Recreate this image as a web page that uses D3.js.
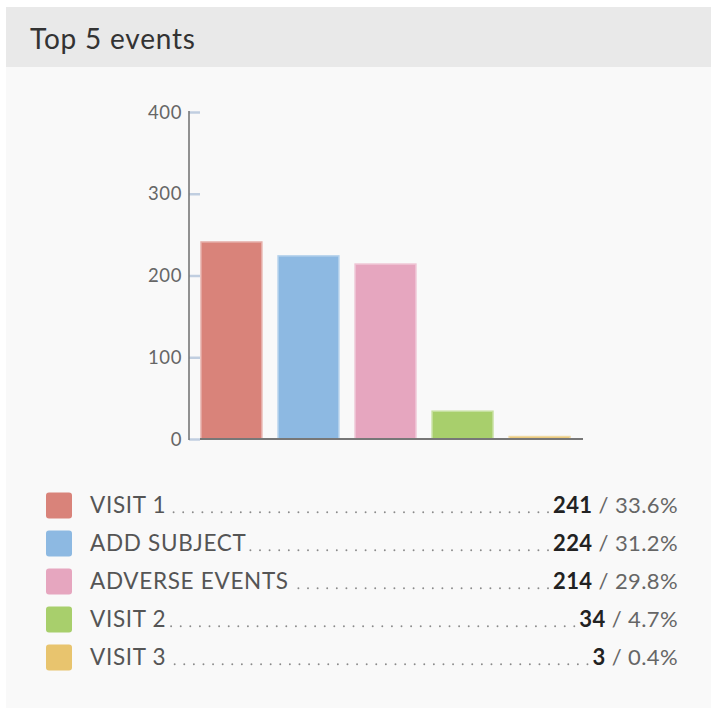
<!DOCTYPE html>
<html>
<head>
<meta charset="utf-8">
<script src="https://cdn.jsdelivr.net/npm/d3@7"></script>
<style>
  html, body { margin: 0; padding: 0; background: #ffffff; }
  svg { display: block; font-family: Lato, "Open Sans", sans-serif; }
</style>
</head>
<body>
<svg id="chart" width="711" height="711"></svg>
<script>
// Top 5 events — counts per event type
const categories = ["VISIT 1", "ADD SUBJECT", "ADVERSE EVENTS", "VISIT 2", "VISIT 3"];
const counts = [241, 224, 214, 34, 3];
const shares = ["33.6%", "31.2%", "29.8%", "4.7%", "0.4%"];
const colors = ["#d9837a", "#8db9e2", "#e6a6bf", "#a8cf6c", "#e8c46e"];
const yTicks = [0, 100, 200, 300, 400];
const title = "Top 5 events";

const svg = d3.select("#chart");

// Card: header band and light body
svg.append("rect").attr("x", 6).attr("y", 7).attr("width", 705).attr("height", 701)
  .attr("fill", "#f9f9f9");
svg.append("rect").attr("x", 6).attr("y", 7).attr("width", 705).attr("height", 60)
  .attr("fill", "#e9e9e9");
svg.append("text").attr("x", 30).attr("y", 48.5)
  .attr("font-size", 28).attr("letter-spacing", 0.8).attr("fill", "#333").text(title);

// Scales
const x = d3.scaleBand().domain(categories).range([201, 570]).paddingInner(0.21).paddingOuter(0);
const y = d3.scaleLinear().domain([0, 400]).range([439, 112]);

// Y axis: short pale ticks, gray labels, dark spine
const yAxis = svg.append("g").attr("transform", "translate(189,0)")
  .call(d3.axisRight(y).tickValues(yTicks).tickSize(11).tickFormat(() => ""));
yAxis.select(".domain").remove();
yAxis.selectAll(".tick line").attr("stroke", "#c0cee0").attr("stroke-width", 2.5);

svg.append("g").selectAll("text").data(yTicks).join("text")
  .attr("x", 182).attr("y", d => y(d)).attr("dy", "0.36em")
  .attr("text-anchor", "end").attr("font-size", 18.5).attr("letter-spacing", 0.6)
  .attr("fill", "#666")
  .text(d => d);

svg.append("line").attr("x1", 189).attr("x2", 189).attr("y1", y(400) - 1).attr("y2", y(0) + 1)
  .attr("stroke", "#777").attr("stroke-width", 1.6);

// Bars
svg.append("g").selectAll("rect").data(categories).join("rect")
  .attr("x", d => x(d))
  .attr("y", (d, i) => y(counts[i]))
  .attr("width", x.bandwidth())
  .attr("height", (d, i) => y(0) - y(counts[i]))
  .attr("fill", (d, i) => colors[i])
  .attr("stroke", (d, i) => d3.interpolateRgb(colors[i], "#ffffff")(0.35))
  .attr("stroke-width", 1.5);

// X axis baseline
svg.append("line").attr("x1", 200).attr("x2", 583).attr("y1", y(0)).attr("y2", y(0))
  .attr("stroke", "#777").attr("stroke-width", 2);

// Legend with dotted leaders
const rowTop = 492.5, rowStep = 38, rightEdge = 678;
const legend = svg.append("g");
categories.forEach((c, i) => {
  const top = rowTop + i * rowStep;
  const base = top + 20.8;
  legend.append("rect").attr("x", 46).attr("y", top).attr("width", 26).attr("height", 26)
    .attr("rx", 3).attr("fill", colors[i]);
  const label = legend.append("text").attr("x", 90).attr("y", base)
    .attr("font-size", 22.5).attr("letter-spacing", 0.7).attr("fill", "#555").text(c);
  const value = legend.append("text").attr("x", rightEdge).attr("y", base)
    .attr("text-anchor", "end").attr("font-size", 22).attr("letter-spacing", 0.4);
  value.append("tspan").attr("font-weight", "bold").attr("fill", "#222").text(counts[i]);
  value.append("tspan").attr("fill", "#666").text(" / " + shares[i]);

  const labelEnd = 90 + label.node().getComputedTextLength();
  const valueStart = rightEdge - value.node().getComputedTextLength();
  const dots = [];
  for (let dx = valueStart - 5; dx > labelEnd + 1; dx -= 9.6) dots.push(dx);
  legend.append("g").selectAll("circle").data(dots).join("circle")
    .attr("cx", d => d).attr("cy", base - 1).attr("r", 0.95).attr("fill", "#8a8a8a");
});
</script>
</body>
</html>
